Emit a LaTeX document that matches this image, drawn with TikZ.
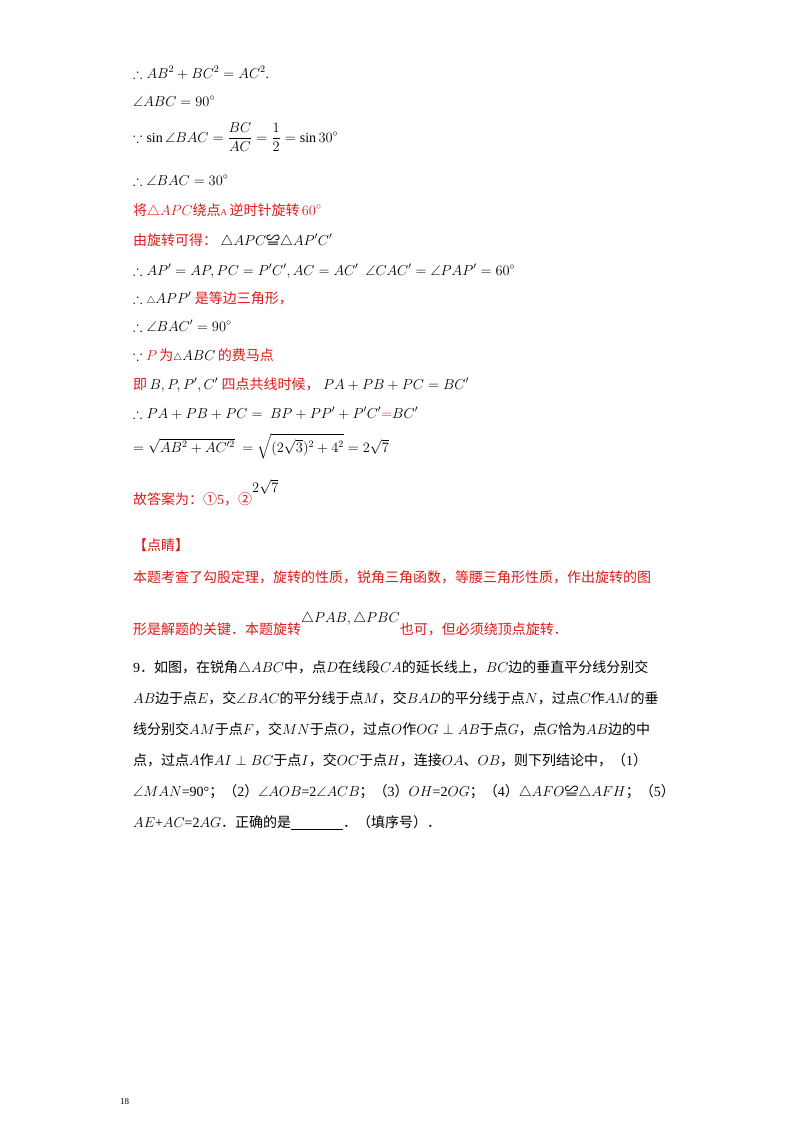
\documentclass[tikz,border=0pt]{standalone}
\usepackage{amsmath,amssymb}
\usepackage{fontspec}
\setmainfont{Liberation Serif}
\newfontfamily\cjk{Noto Sans CJK SC}
\definecolor{rd}{RGB}{220,25,25}
\newcommand{\hz}[1]{{\cjk #1}}
\begin{document}
\begin{tikzpicture}[x=1pt,y=-1pt,
  ln/.style={anchor=base west,inner sep=0pt,font=\fontsize{14}{16}\selectfont},
  rl/.style={ln,text=rd}]
\useasboundingbox (0,0) rectangle (800,1132);
\node[ln] (l1) at (133,78) {$\therefore AB^2+BC^2=AC^2$.};
\node[ln] (l2) at (133,106) {$\angle ABC=90^\circ$};
\node[ln] (l3) at (133,142) {$\because \sin\angle BAC=\dfrac{BC}{AC}=\dfrac12=\sin 30^\circ$};
\node[ln] (l4) at (133,185) {$\therefore \angle BAC=30^\circ$};
\node[rl] (l5) at (133,215) {\hz{将}$\triangle APC$\hz{绕点}{\small A}\,\hz{逆时针旋转}\,$60^\circ$};
\node[ln] (l6) at (133,245) {\textcolor{rd}{\hz{由旋转可得：}}\ $\triangle APC$\hz{≌}$\triangle AP'C'$};
\node[ln] (l7) at (133,275) {$\therefore AP'=AP, PC=P'C', AC=AC'\ \ \angle CAC'=\angle PAP'=60^\circ$};
\node[ln] (l8) at (133,303) {$\therefore{\scriptstyle\triangle} APP'$\ \textcolor{rd}{\hz{是等边三角形，}}};
\node[ln] (l9) at (133,331) {$\therefore \angle BAC'=90^\circ$};
\node[ln] (l10) at (133,360) {$\because$\ \textcolor{rd}{$P$\,\hz{为}}${\scriptstyle\triangle} ABC$\,\textcolor{rd}{\hz{的费马点}}};
\node[ln] (l11) at (133,389) {\textcolor{rd}{\hz{即}}\,$B,P,P',C'$\ \textcolor{rd}{\hz{四点共线时候，}}\ $PA+PB+PC=BC'$};
\node[ln] (l12) at (133,418) {$\therefore PA+PB+PC=\ BP+PP'+P'C'\textcolor{rd}{=}BC'$};
\node[ln] (l13) at (133,452) {$=\sqrt{AB^2+AC'^2}\ =\sqrt{(2\sqrt3)^2+4^2}=2\sqrt7$};
\node[rl] (l14) at (133,504) {\hz{故答案为：①}5\hz{，②}\raisebox{12pt}{\textcolor{black}{$2\sqrt7$}}};
\node[rl] (l15) at (133,550) {\hz{【点睛】}};
\node[rl] (l16) at (133,582) {\hz{本题考查了勾股定理，旋转的性质，锐角三角函数，等腰三角形性质，作出旋转的图}};
\node[rl] (l17) at (133,634) {\hz{形是解题的关键．本题旋转}\raisebox{12pt}{\textcolor{black}{$\triangle PAB,\triangle PBC$}}\hz{也可，但必须绕顶点旋转．}};
\node[ln] (l18) at (133,672) {9\hz{．如图，在锐角}$\triangle ABC$\hz{中，点}$D$\hz{在线段}$CA$\hz{的延长线上，}$BC$\hz{边的垂直平分线分别交}};
\node[ln] (l19) at (133,703) {$AB$\hz{边于点}$E$\hz{，交}$\angle BAC$\hz{的平分线于点}$M$\hz{，交}$BAD$\hz{的平分线于点}$N$\hz{，过点}$C$\hz{作}$AM$\hz{的垂}};
\node[ln] (l20) at (133,734) {\hz{线分别交}$AM$\hz{于点}$F$\hz{，交}$MN$\hz{于点}$O$\hz{，过点}$O$\hz{作}$OG\perp AB$\hz{于点}$G$\hz{，点}$G$\hz{恰为}$AB$\hz{边的中}};
\node[ln] (l21) at (133,765) {\hz{点，过点}$A$\hz{作}$AI\perp BC$\hz{于点}$I$\hz{，交}$OC$\hz{于点}$H$\hz{，连接}$OA$\hz{、}$OB$\hz{，则下列结论中，（}1\hz{）}};
\node[ln] (l22) at (133,796) {$\angle MAN$=90°\hz{；（}2\hz{）}$\angle AOB$=2$\angle ACB$\hz{；（}3\hz{）}$OH$=2$OG$\hz{；（}4\hz{）}$\triangle AFO$\hz{≌}$\triangle AFH$\hz{；（}5\hz{）}};
\node[ln] (l23) at (133,827) {$AE$+$AC$=2$AG$\hz{．正确的是}\underline{\hspace{52pt}}\hz{．（填序号）．}};
\node[anchor=base west,inner sep=0pt,font=\small] (pg) at (120,1104) {18};
\end{tikzpicture}
\end{document}
